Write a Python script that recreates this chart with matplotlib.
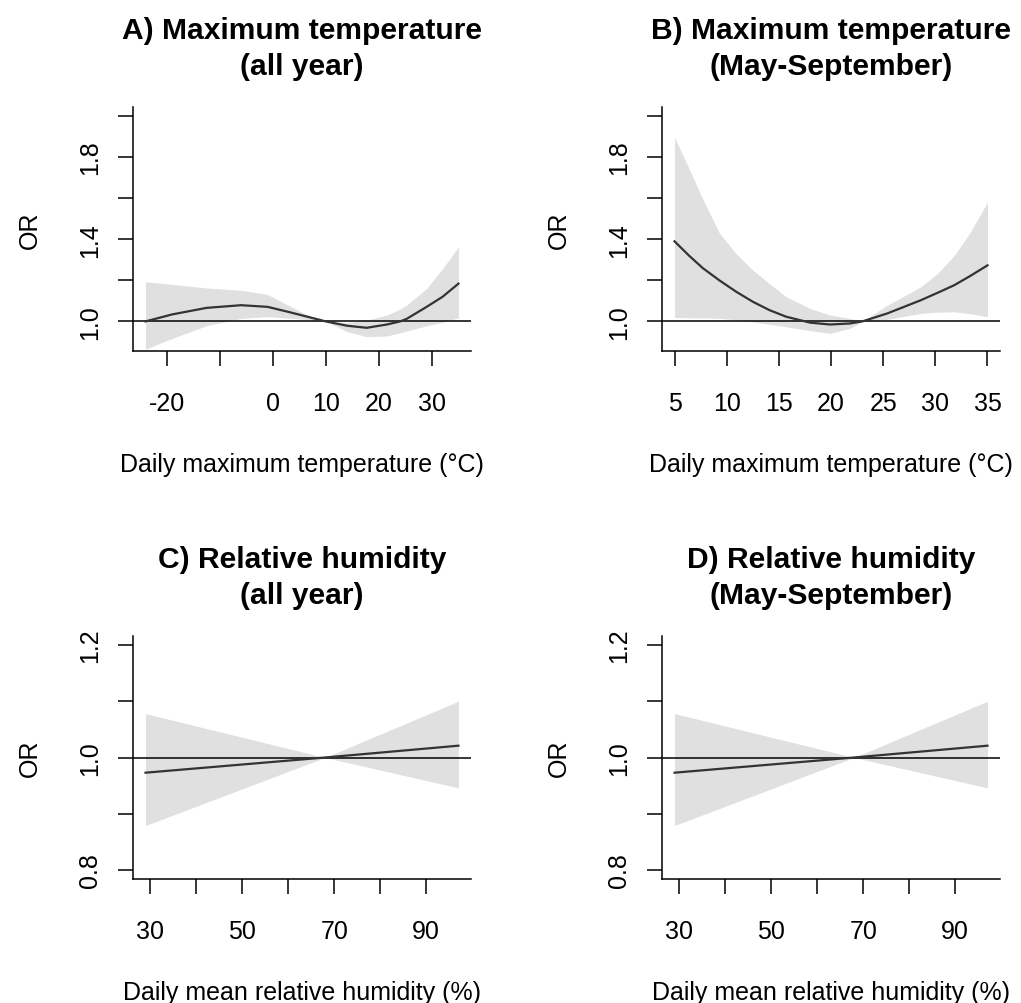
import matplotlib
matplotlib.use('Agg')
import matplotlib.pyplot as plt
from matplotlib.transforms import offset_copy

plt.rcParams['font.family'] = ['Liberation Sans', 'DejaVu Sans']

# A) 最高气温 全年
a_x = [-24, -19, -12.5, -6, -1, 3, 6.5, 10, 14, 17.7, 21.5, 24, 25.2, 29, 32, 35]
a_fit = [1.0, 1.034, 1.066, 1.079, 1.071, 1.046, 1.023, 1.0, 0.979, 0.969, 0.985, 1.0, 1.012, 1.071, 1.12, 1.184]
a_lo = [0.865, 0.917, 0.979, 1.015, 1.023, 1.016, 1.009, 1.0, 0.95, 0.926, 0.929, 0.945, 0.953, 0.979, 0.995, 1.018]
a_hi = [1.193, 1.18, 1.163, 1.152, 1.131, 1.078, 1.031, 1.0, 0.995, 1.006, 1.031, 1.06, 1.079, 1.16, 1.257, 1.363]

# B) 最高气温 5-9月
b_x = [5, 6.4, 7.7, 9.3, 10.9, 12.5, 14.1, 15.7, 18, 19.9, 21.8, 23, 25.4, 28.6, 30.2, 31.8, 33.3, 35]
b_fit = [1.39, 1.32, 1.26, 1.20, 1.145, 1.096, 1.055, 1.023, 0.994, 0.985, 0.99, 1.0, 1.039, 1.103, 1.139, 1.176, 1.22, 1.273]
b_lo = [1.019, 1.018, 1.017, 1.015, 1.008, 0.998, 0.986, 0.974, 0.955, 0.942, 0.966, 1.0, 1.01, 1.039, 1.045, 1.047, 1.038, 1.023]
b_hi = [1.897, 1.743, 1.597, 1.43, 1.33, 1.25, 1.184, 1.12, 1.063, 1.031, 1.015, 1.0, 1.079, 1.168, 1.233, 1.32, 1.43, 1.581]

# C) D) 相对湿度
c_x = [29, 68, 97]
c_fit = [0.973, 1.0, 1.021]
c_lo = [0.879, 1.0, 0.946]
c_hi = [1.078, 1.0, 1.10]

d_x = [29, 68, 97]
d_fit = [0.973, 1.0, 1.021]
d_lo = [0.879, 1.0, 0.946]
d_hi = [1.078, 1.0, 1.10]

temp_ticks = [-20, -10, 0, 10, 20, 30]
temp_labels = ['-20', '', '0', '10', '20', '30']
may_ticks = [5, 10, 15, 20, 25, 30, 35]
may_labels = ['5', '10', '15', '20', '25', '30', '35']
rh_ticks = [30, 40, 50, 60, 70, 80, 90]
rh_labels = ['30', '', '50', '', '70', '', '90']
or_ticks_t = [1.0, 1.2, 1.4, 1.6, 1.8, 2.0]
or_labels_t = ['1.0', '', '1.4', '', '1.8', '']
or_ticks_h = [0.8, 0.9, 1.0, 1.1, 1.2]
or_labels_h = ['0.8', '', '1.0', '', '1.2']

W, H = 1021, 1004
fig = plt.figure(figsize=(W / 100, H / 100), dpi=100)


def r_range(lo, hi):
    # R 默认两端各扩 4%
    d = (hi - lo) * 0.04
    return lo - d, hi + d


def panel(box, x, fit, lo, hi, ylim, xticks, xlabels, yticks, ylabels,
          title1, title2, xlab):
    left, top, right, bottom = box
    ax = fig.add_axes([left / W, 1 - bottom / H, (right - left) / W, (bottom - top) / H])
    ax.fill_between(x, lo, hi, color='#e0e0e0', linewidth=0)
    ax.axhline(1.0, color='black', lw=1.1)
    ax.plot(x, fit, color='#333333', lw=1.6)
    ax.set_xlim(r_range(min(x), max(x)))
    ax.set_ylim(r_range(*ylim))
    ax.set_xticks(xticks, xlabels)
    ax.set_yticks(yticks, ylabels)
    for s in ['top', 'right']:
        ax.spines[s].set_visible(False)
    for s in ['left', 'bottom']:
        ax.spines[s].set_linewidth(1.1)
    ax.tick_params(axis='both', direction='out', length=11, width=1.1, labelsize=18)
    ax.tick_params(axis='x', pad=17.5)
    ax.tick_params(axis='y', pad=11.5)
    plt.setp(ax.get_yticklabels(), rotation=90, va='center')

    def at(xa, ya, dx, dy):
        return offset_copy(ax.transAxes, fig=fig, x=dx, y=dy, units='dots')

    ax.text(0.5, 1, title1, transform=at(0.5, 1, 0, 69), ha='center', va='baseline',
            fontsize=21.6, fontweight='bold')
    ax.text(0.5, 1, title2, transform=at(0.5, 1, 0, 33), ha='center', va='baseline',
            fontsize=21.6, fontweight='bold')
    ax.text(0.5, 0, xlab, transform=at(0.5, 0, 0, -120), ha='center', va='baseline',
            fontsize=18)
    ax.text(0, 0.5, 'OR', transform=at(0, 0.5, -96, 0), ha='center', va='baseline',
            rotation=90, rotation_mode='anchor', fontsize=18)
    return ax


panel((133, 108, 471, 352), a_x, a_fit, a_lo, a_hi, (0.9, 2.0),
      temp_ticks, temp_labels, or_ticks_t, or_labels_t,
      'A) Maximum temperature', '(all year)', 'Daily maximum temperature (°C)')
panel((662, 108, 1000, 352), b_x, b_fit, b_lo, b_hi, (0.9, 2.0),
      may_ticks, may_labels, or_ticks_t, or_labels_t,
      'B) Maximum temperature', '(May-September)', 'Daily maximum temperature (°C)')
panel((133, 637, 471, 880), c_x, c_fit, c_lo, c_hi, (0.8, 1.2),
      rh_ticks, rh_labels, or_ticks_h, or_labels_h,
      'C) Relative humidity', '(all year)', 'Daily mean relative humidity (%)')
panel((662, 637, 1000, 880), d_x, d_fit, d_lo, d_hi, (0.8, 1.2),
      rh_ticks, rh_labels, or_ticks_h, or_labels_h,
      'D) Relative humidity', '(May-September)', 'Daily mean relative humidity (%)')

fig.savefig('out.png', dpi=100)
